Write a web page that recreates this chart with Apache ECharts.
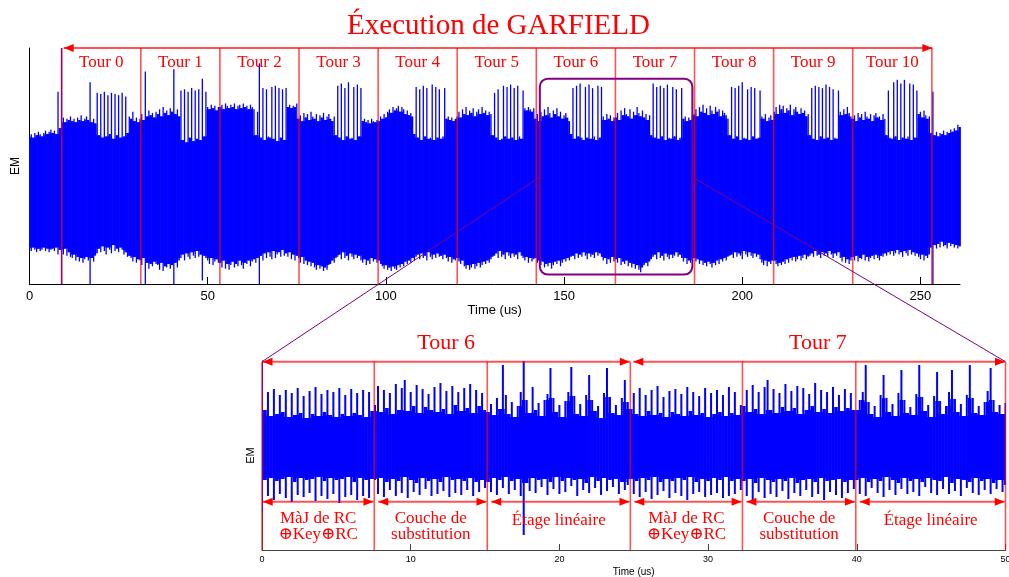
<!DOCTYPE html>
<html>
<head>
<meta charset="utf-8">
<script src="https://cdn.jsdelivr.net/npm/echarts@6/dist/echarts.min.js"></script>
<style>
  html, body { margin: 0; padding: 0; background: #ffffff; }
  #chart { width: 1009px; height: 577px; }
</style>
</head>
<body>
<div id="chart"></div>
<script>
// ---------------------------------------------------------------------------
// EM trace of the whole GARFIELD run: envelope per 0.5 us bin (max / min)
// ---------------------------------------------------------------------------
const FULL_STEP = 0.5;
const fullHi = [
  // 0 - 9 us (before round 0)
  45,47,44,48,46,49,47,45,48,50,47,49,51,48,50,47,83,52,
  // Tour 0
  120,61,57,60,59,62,58,60,57,61,59,63,58,60,62,59,91,57,60,56,
  82,46,81,44,83,45,80,47,82,43,81,46,80,44,82,45,79,48,62,60,66,58,61,57,
  // Tour 1
  60,64,59,100,62,67,63,65,61,66,64,68,62,70,65,67,63,69,66,102,64,68,62,
  84,42,85,40,83,44,86,41,84,43,85,42,94,45,83,70,68,72,69,71,67,70,
  // Tour 2
  70,72,68,73,71,69,72,70,73,68,71,72,69,73,70,71,68,72,70,68,46,66,107,
  44,86,42,85,45,44,87,43,88,41,86,44,85,42,86,70,72,69,71,70,73,
  // Tour 3
  60,63,58,65,61,64,59,66,62,60,64,58,63,61,65,59,62,64,60,58,62,46,
  88,44,90,42,86,45,91,43,44,87,42,89,45,86,58,60,57,59,56,60,58,57,59,
  // Tour 4
  58,62,60,64,61,66,68,65,70,67,69,71,66,70,68,64,67,63,65,62,47,
  87,44,85,42,88,45,86,43,44,89,42,87,44,85,43,45,86,60,62,59,61,58,60,
  // Tour 5
  62,66,61,68,64,70,63,67,65,69,62,66,68,64,70,65,67,63,66,64,46,
  82,44,85,42,43,88,45,87,43,89,44,86,42,88,45,43,84,69,67,70,68,66,69,
  // Tour 6
  60,64,58,66,62,68,63,70,65,61,67,64,69,62,66,60,63,65,61,58,47,
  86,43,88,45,90,44,42,87,44,89,43,86,45,42,88,44,87,62,59,64,60,63,58,61,
  // Tour 7
  61,65,59,67,63,69,64,62,68,60,66,63,70,65,62,67,61,64,59,63,46,
  90,44,87,43,88,45,86,42,89,44,43,87,45,85,42,44,86,60,62,58,61,59,63,
  // Tour 8
  64,68,62,70,66,72,65,69,63,71,67,64,70,66,68,62,67,65,63,60,46,
  87,43,86,45,88,42,91,44,43,85,42,87,45,86,43,44,84,62,60,64,58,61,63,59,
  // Tour 9
  66,70,64,72,68,71,65,69,67,72,63,68,70,66,64,69,65,67,62,64,46,
  86,43,88,42,87,45,86,43,89,44,87,42,85,44,43,84,66,63,68,64,70,65,62,
  // Tour 10
  60,63,58,65,61,64,59,66,62,60,64,58,63,65,61,62,59,64,60,46,
  84,44,43,91,45,93,42,90,44,93,43,45,90,42,89,44,84,64,66,61,67,63,60,62,
  // after round 10
  48,83,46,49,45,48,47,50,46,49,48,51,49,52,50,55,53
];
const fullLo = [
  -50,-52,-49,-51,-53,-50,-52,-51,-49,-52,-50,-53,-51,-50,-52,-49,-55,-51,
  -80,-55,-50,-56,-53,-57,-58,-55,-60,-57,-61,-58,-62,-59,-57,-60,-80,-58,-61,-56,
  -54,-50,-53,-48,-52,-55,-49,-51,-54,-47,-52,-50,-53,-49,-51,-55,-53,-57,-56,-58,-61,-57,-62,-59,
  -60,-64,-58,-80,-62,-67,-63,-65,-61,-63,-64,-68,-62,-69,-65,-66,-63,-67,-64,-80,-62,-66,-60,
  -58,-55,-60,-54,-57,-59,-53,-56,-58,-52,-57,-55,-77,-56,-58,-60,-63,-58,-64,-61,-59,-62,
  -62,-66,-60,-67,-63,-68,-64,-61,-66,-63,-65,-60,-64,-67,-62,-63,-60,-65,-61,-59,-62,-58,-80,
  -56,-60,-54,-58,-53,-57,-59,-52,-58,-55,-53,-57,-51,-56,-54,-57,-53,-59,-55,-60,-56,
  -58,-62,-57,-63,-60,-64,-61,-65,-62,-66,-68,-64,-67,-65,-69,-66,-68,-64,-63,-60,-62,-58,
  -57,-55,-59,-53,-58,-56,-60,-54,-57,-59,-55,-58,-56,-60,-62,-59,-64,-60,-63,-58,-61,-59,-62,
  -60,-63,-65,-67,-64,-68,-66,-69,-65,-67,-68,-64,-66,-63,-65,-61,-63,-60,-62,-58,-60,
  -57,-55,-59,-54,-58,-56,-60,-53,-57,-59,-55,-58,-54,-57,-56,-59,-55,-58,-61,-57,-62,-59,-60,
  -58,-61,-63,-60,-65,-67,-64,-68,-66,-63,-67,-65,-62,-66,-64,-61,-63,-60,-62,-59,-57,
  -56,-54,-58,-52,-57,-55,-59,-53,-56,-58,-54,-57,-55,-59,-53,-56,-58,-60,-57,-62,-58,-61,-59,
  -58,-62,-60,-64,-61,-66,-63,-65,-62,-67,-64,-61,-63,-60,-65,-62,-59,-61,-58,-60,-57,
  -56,-59,-54,-58,-55,-57,-53,-56,-59,-54,-57,-55,-58,-53,-56,-54,-57,-60,-58,-63,-59,-62,-57,-61,
  -59,-62,-58,-64,-61,-63,-60,-65,-62,-66,-63,-67,-64,-68,-70,-66,-64,-62,-65,-61,-59,
  -57,-55,-59,-53,-58,-56,-60,-54,-57,-59,-55,-58,-56,-53,-57,-55,-58,-61,-58,-63,-60,-62,-59,
  -58,-61,-59,-63,-60,-64,-62,-65,-61,-63,-66,-62,-64,-60,-63,-59,-61,-58,-60,-57,-56,
  -55,-58,-53,-57,-54,-56,-59,-52,-55,-57,-53,-56,-58,-54,-57,-55,-59,-62,-64,-60,-65,-61,-63,-60,
  -60,-63,-65,-62,-64,-61,-63,-59,-62,-58,-60,-57,-61,-59,-56,-60,-58,-55,-59,-57,-56,
  -54,-57,-52,-56,-55,-58,-53,-56,-54,-57,-52,-55,-58,-54,-56,-53,-58,-61,-57,-62,-59,-63,-60,
  -57,-60,-56,-61,-58,-59,-55,-60,-57,-61,-58,-56,-59,-55,-58,-60,-56,-57,-54,-56,
  -53,-55,-52,-56,-54,-51,-55,-53,-57,-52,-54,-56,-51,-55,-53,-56,-54,-57,-59,-55,-60,-56,-58,-55,
  -49,-80,-47,-50,-46,-49,-44,-48,-47,-50,-45,-48,-46,-49,-47,-50,-48
];

// ---------------------------------------------------------------------------
// Close-up on rounds 6 and 7: envelope per 0.2 us bin (max / min)
// ---------------------------------------------------------------------------
const ZOOM_STEP = 0.2;
const zoomHi = [
  // Tour 6 : MàJ de RC, Couche de substitution, Étage linéaire
  88,40,58,34,61,36,55,38,60,33,57,35,62,37,54,32,59,36,63,34,56,38,60,35,58,33,62,36,55,34,61,37,57,35,60,33,58,39,
  45,64,38,60,42,57,36,66,40,62,70,39,58,44,65,37,61,43,56,40,63,38,67,41,59,36,64,45,58,39,62,42,66,37,60,44,57,40,
  38,46,35,52,41,85,55,36,48,33,44,58,89,50,37,63,40,47,34,50,56,82,52,38,45,33,49,58,83,54,36,46,34,55,75,50,39,44,32,57,82,53,37,45,35,52,70,48,
  // Tour 7
  41,57,36,62,34,55,39,60,35,64,37,53,33,59,38,61,36,56,34,63,39,58,35,54,37,62,33,57,36,60,38,55,34,63,37,58,35,45,
  44,60,38,65,41,58,36,63,70,40,61,37,57,43,66,39,59,42,64,36,62,40,56,44,67,38,60,41,58,37,63,43,55,39,61,42,57,40,
  40,50,58,85,48,36,44,33,55,75,52,38,46,34,57,80,50,37,43,35,56,85,53,39,45,33,54,78,49,36,44,58,80,51,38,46,34,55,85,52,37,44,35,48,59,82,50,38,45,36,47
];
const zoomLo = [
  -62,-30,-46,-28,-50,-31,-44,-29,-48,-27,-52,-32,-45,-28,-47,-30,-43,-29,-51,-27,-46,-31,-49,-28,-44,-30,-53,-29,-47,-27,-45,-32,-50,-28,-46,-30,-48,-29,
  -30,-44,-28,-47,-32,-40,-29,-46,-31,-43,-27,-48,-30,-42,-33,-45,-28,-39,-31,-46,-29,-44,-32,-41,-27,-47,-30,-43,-29,-45,-31,-40,-28,-46,-32,-42,-30,-38,
  -32,-42,-28,-45,-30,-38,-27,-44,-31,-40,-29,-46,-85,-33,-41,-28,-43,-30,-37,-29,-45,-32,-39,-27,-44,-31,-42,-28,-36,-30,-46,-29,-40,-33,-43,-27,-38,-31,-45,-28,-41,-30,-37,-29,-44,-32,-40,-35,
  -29,-44,-31,-47,-28,-42,-30,-49,-27,-45,-32,-41,-29,-48,-31,-43,-28,-46,-30,-50,-27,-44,-32,-42,-29,-47,-31,-45,-28,-43,-30,-48,-27,-46,-31,-44,-29,-40,
  -31,-46,-29,-50,-33,-42,-28,-48,-30,-44,-32,-47,-29,-41,-31,-49,-28,-43,-33,-46,-30,-40,-29,-47,-32,-44,-28,-50,-31,-42,-30,-45,-29,-48,-32,-43,-30,-39,
  -30,-44,-28,-46,-32,-38,-29,-43,-31,-47,-27,-40,-30,-45,-33,-39,-28,-44,-31,-42,-29,-46,-32,-37,-28,-43,-30,-45,-31,-39,-27,-44,-33,-41,-29,-46,-30,-38,-32,-43,-28,-45,-31,-40,-29,-44,-33,-39,-30,-42,-35
];

// Round boundaries on the full trace (us) and their names
const roundBounds = [9.03, 31.23, 53.42, 75.62, 97.82, 120.02, 142.21, 164.41, 186.61, 208.80, 231.00, 253.20];
const roundLabels = ['Tour 0', 'Tour 1', 'Tour 2', 'Tour 3', 'Tour 4', 'Tour 5', 'Tour 6', 'Tour 7', 'Tour 8', 'Tour 9', 'Tour 10'];

// Window of the full trace shown in the close-up (time range and EM range)
const zoomWindowTime = [143.2, 186.0];
const zoomWindowLevel = [-72, 94];
const connectorLevel = 10.7;

// Close-up: round and stage boundaries (us)
const zoomRoundBounds = [0, 24.77, 50.0];
const zoomRoundLabels = ['Tour 6', 'Tour 7'];
const stageBounds = [0, 7.55, 15.15, 24.77, 32.31, 39.93, 50.0];
const stageLabels = ['MàJ de RC\n⊕Key⊕RC', 'Couche de\nsubstitution', 'Étage linéaire',
                     'MàJ de RC\n⊕Key⊕RC', 'Couche de\nsubstitution', 'Étage linéaire'];

// Axis ranges and tick values
const FULL_X = [0, 261.1];
const FULL_Y = [-80, 120];
const ZOOM_X = [0, 50];
const ZOOM_Y = [-100, 89];
const fullTicks = [0, 50, 100, 150, 200, 250];
const zoomTicks = [0, 10, 20, 30, 40, 50];

// ---------------------------------------------------------------------------
const BLUE = '#0000ff';
const RED = '#ff0000';
const RED_LINE = 'rgba(255,0,0,0.68)';
const PURPLE = '#800080';
const SERIF = '"Liberation Serif", "DejaVu Serif", serif';
const SANS = '"Liberation Sans", Arial, sans-serif';

// One bin of the trace: a solid core (what all neighbours share) plus a thin
// stroke out to the bin's own max / min, giving the dense oscilloscope look.
function signalRenderer(hi, lo, step, strokeW) {
  return function (params, api) {
    const k = params.dataIndex;
    const t = api.value(0);
    const h = hi[k], l = lo[k];
    const coreHi = Math.min(h, k > 0 ? hi[k - 1] : h, k < hi.length - 1 ? hi[k + 1] : h);
    const coreLo = Math.max(l, k > 0 ? lo[k - 1] : l, k < lo.length - 1 ? lo[k + 1] : l);
    const x0 = api.coord([t - step / 2, 0])[0];
    const x1 = api.coord([t + step / 2, 0])[0];
    const xc = (x0 + x1) / 2;
    const yCH = api.coord([t, coreHi])[1], yCL = api.coord([t, coreLo])[1];
    const yH = api.coord([t, h])[1], yL = api.coord([t, l])[1];
    return {
      type: 'group',
      children: [
        { type: 'rect', shape: { x: x0 - 0.3, y: yCH, width: x1 - x0 + 0.6, height: yCL - yCH }, style: { fill: BLUE } },
        { type: 'rect', shape: { x: xc - strokeW / 2, y: yH, width: strokeW, height: yL - yH }, style: { fill: BLUE } }
      ]
    };
  };
}

function vline(x, y1, y2, w) {
  return { type: 'line', shape: { x1: x, y1: y1, x2: x, y2: y2 }, style: { stroke: RED_LINE, lineWidth: w || 1.6 } };
}
function hline(x1, x2, y, w) {
  return { type: 'line', shape: { x1: x1, y1: y, x2: x2, y2: y }, style: { stroke: RED_LINE, lineWidth: w || 2 } };
}
function arrowHead(x, y, dir) {
  return { type: 'polygon', shape: { points: [[x, y], [x - dir * 10, y - 4], [x - dir * 10, y + 4]] }, style: { fill: RED } };
}
function doubleArrow(xa, xb, y, out) {
  out.push(hline(xa, xb, y, 2));
  out.push(arrowHead(xa, y, -1), arrowHead(xb, y, 1));
}
function label(text, x, y, size) {
  return { type: 'text', x: x, y: y, style: { text: text, fill: RED, fontSize: size, fontFamily: SERIF, align: 'center', verticalAlign: 'middle' } };
}

function renderFullAnnotations(params, api) {
  const out = [];
  const yTop = api.coord([0, FULL_Y[1]])[1];
  const yBot = api.coord([0, FULL_Y[0]])[1];
  const xs = roundBounds.map(function (b) { return api.coord([b, 0])[0]; });
  xs.forEach(function (x) { out.push(vline(x, yTop, yBot)); });
  doubleArrow(xs[0] + 2, xs[xs.length - 1] + 0.5, yTop, out);
  roundLabels.forEach(function (s, k) { out.push(label(s, (xs[k] + xs[k + 1]) / 2, yTop + 14.5, 17)); });
  const a = api.coord([zoomWindowTime[0], zoomWindowLevel[1]]);
  const b = api.coord([zoomWindowTime[1], zoomWindowLevel[0]]);
  out.push({ type: 'rect', shape: { x: a[0], y: a[1], width: b[0] - a[0], height: b[1] - a[1], r: 8 },
             style: { fill: 'none', stroke: PURPLE, lineWidth: 2 } });
  return { type: 'group', children: out };
}

function renderZoomAnnotations(params, api) {
  const out = [];
  const yTop = api.coord([0, ZOOM_Y[1]])[1] + 0.7;
  const yBot = api.coord([0, ZOOM_Y[0]])[1];
  const sx = stageBounds.map(function (b) { return api.coord([b, 0])[0]; });
  sx.forEach(function (x) { out.push(vline(x, yTop, yBot)); });
  const rx = zoomRoundBounds.map(function (b) { return api.coord([b, 0])[0]; });
  for (let k = 0; k < zoomRoundLabels.length; k++) {
    doubleArrow(rx[k] + (k === 0 ? 0.5 : 3), rx[k + 1] - 0.5, yTop, out);
    out.push(label(zoomRoundLabels[k], (rx[k] + rx[k + 1]) / 2, yTop - 18.4, 22));
  }
  const yArrow = yBot - 48.3;
  for (let k = 0; k < stageLabels.length; k++) {
    doubleArrow(sx[k] + (k === 0 ? 0.7 : 4), sx[k + 1] - 0.8, yArrow, out);
    const cx = (sx[k] + sx[k + 1]) / 2;
    const lines = stageLabels[k].split('\n');
    if (lines.length === 2) {
      out.push(label(lines[0], cx, yBot - 31.7, 17));
      out.push(label(lines[1], cx, yBot - 15, 17));
    } else {
      out.push(label(lines[0], cx, yBot - 29, 17));
    }
  }
  return { type: 'group', children: out };
}

const fullData = fullHi.map(function (h, i) { return [i * FULL_STEP, fullLo[i], h]; });
const zoomData = zoomHi.map(function (h, i) { return [i * ZOOM_STEP, zoomLo[i], h]; });

const chart = echarts.init(document.getElementById('chart'), null, { renderer: 'canvas' });

function xAxisFor(gridIndex, range, ticks, opts) {
  return {
    type: 'value', gridIndex: gridIndex, min: range[0], max: range[1],
    interval: ticks[1] - ticks[0],
    name: 'Time (us)', nameLocation: 'middle', nameGap: opts.nameGap,
    nameTextStyle: { fontFamily: SANS, fontSize: opts.nameSize, color: '#000' },
    axisLine: { show: true, onZero: false, lineStyle: { color: opts.lineColor, width: 1 } },
    axisTick: { show: true, inside: true, length: opts.tickLen, customValues: ticks, lineStyle: { color: opts.lineColor } },
    axisLabel: { show: true, margin: opts.margin, customValues: ticks, fontFamily: SANS, fontSize: opts.labelSize, color: '#000' },
    splitLine: { show: false }
  };
}
function yAxisFor(gridIndex, range, opts) {
  return {
    type: 'value', gridIndex: gridIndex, min: range[0], max: range[1],
    name: 'EM', nameLocation: 'middle', nameGap: opts.nameGap,
    nameTextStyle: { fontFamily: SANS, fontSize: opts.nameSize, color: '#000' },
    axisLine: { show: true, onZero: false, lineStyle: { color: opts.lineColor, width: 1 } },
    axisTick: { show: false }, axisLabel: { show: false }, splitLine: { show: false }
  };
}

chart.setOption({
  animation: false,
  backgroundColor: '#ffffff',
  grid: [
    { left: 29.5, top: 48, width: 930.5, height: 236, containLabel: false, outerBoundsMode: 'none' },
    { left: 262, top: 361, width: 743.5, height: 189, containLabel: false, outerBoundsMode: 'none' }
  ],
  xAxis: [
    xAxisFor(0, FULL_X, fullTicks, { nameGap: 20, nameSize: 13, lineColor: '#000', tickLen: 7, margin: 6, labelSize: 13 }),
    xAxisFor(1, ZOOM_X, zoomTicks, { nameGap: 17, nameSize: 10, lineColor: '#444', tickLen: 6, margin: 5, labelSize: 9 })
  ],
  yAxis: [
    yAxisFor(0, FULL_Y, { nameGap: 8, nameSize: 12, lineColor: '#000' }),
    yAxisFor(1, ZOOM_Y, { nameGap: 6, nameSize: 11, lineColor: '#444' })
  ],
  series: [
    { type: 'custom', name: 'EM', xAxisIndex: 0, yAxisIndex: 0, clip: true, z: 2, silent: true,
      encode: { x: 0, y: [1, 2] }, data: fullData, renderItem: signalRenderer(fullHi, fullLo, FULL_STEP, 1.3) },
    { type: 'custom', name: 'EM zoom', xAxisIndex: 1, yAxisIndex: 1, clip: true, z: 2, silent: true,
      encode: { x: 0, y: [1, 2] }, data: zoomData, renderItem: signalRenderer(zoomHi, zoomLo, ZOOM_STEP, 2.0) },
    { type: 'custom', name: 'rounds', xAxisIndex: 0, yAxisIndex: 0, clip: false, z: 5, silent: true,
      data: [[0, 0]], renderItem: renderFullAnnotations },
    { type: 'custom', name: 'stages', xAxisIndex: 1, yAxisIndex: 1, clip: false, z: 5, silent: true,
      data: [[0, 0]], renderItem: renderZoomAnnotations }
  ]
});

// Title and the two connectors linking the framed window to the close-up
const pA = chart.convertToPixel({ gridIndex: 0 }, [zoomWindowTime[0], connectorLevel]);
const pB = chart.convertToPixel({ gridIndex: 0 }, [zoomWindowTime[1], connectorLevel]);
const qA = chart.convertToPixel({ gridIndex: 1 }, [ZOOM_X[0], ZOOM_Y[1]]);
const qB = chart.convertToPixel({ gridIndex: 1 }, [ZOOM_X[1], ZOOM_Y[1]]);
chart.setOption({
  graphic: [
    { type: 'text', x: 498.5, y: 26.5, z: 60,
      style: { text: 'Éxecution de GARFIELD', fill: RED, fontSize: 29, fontFamily: SERIF, align: 'center', verticalAlign: 'middle' } },
    { type: 'line', z: 60, shape: { x1: pA[0], y1: pA[1], x2: qA[0], y2: qA[1] + 0.7 }, style: { stroke: PURPLE, lineWidth: 1 } },
    { type: 'line', z: 60, shape: { x1: pB[0], y1: pB[1], x2: qB[0], y2: qB[1] + 0.7 }, style: { stroke: PURPLE, lineWidth: 1 } }
  ]
});
</script>
</body>
</html>
